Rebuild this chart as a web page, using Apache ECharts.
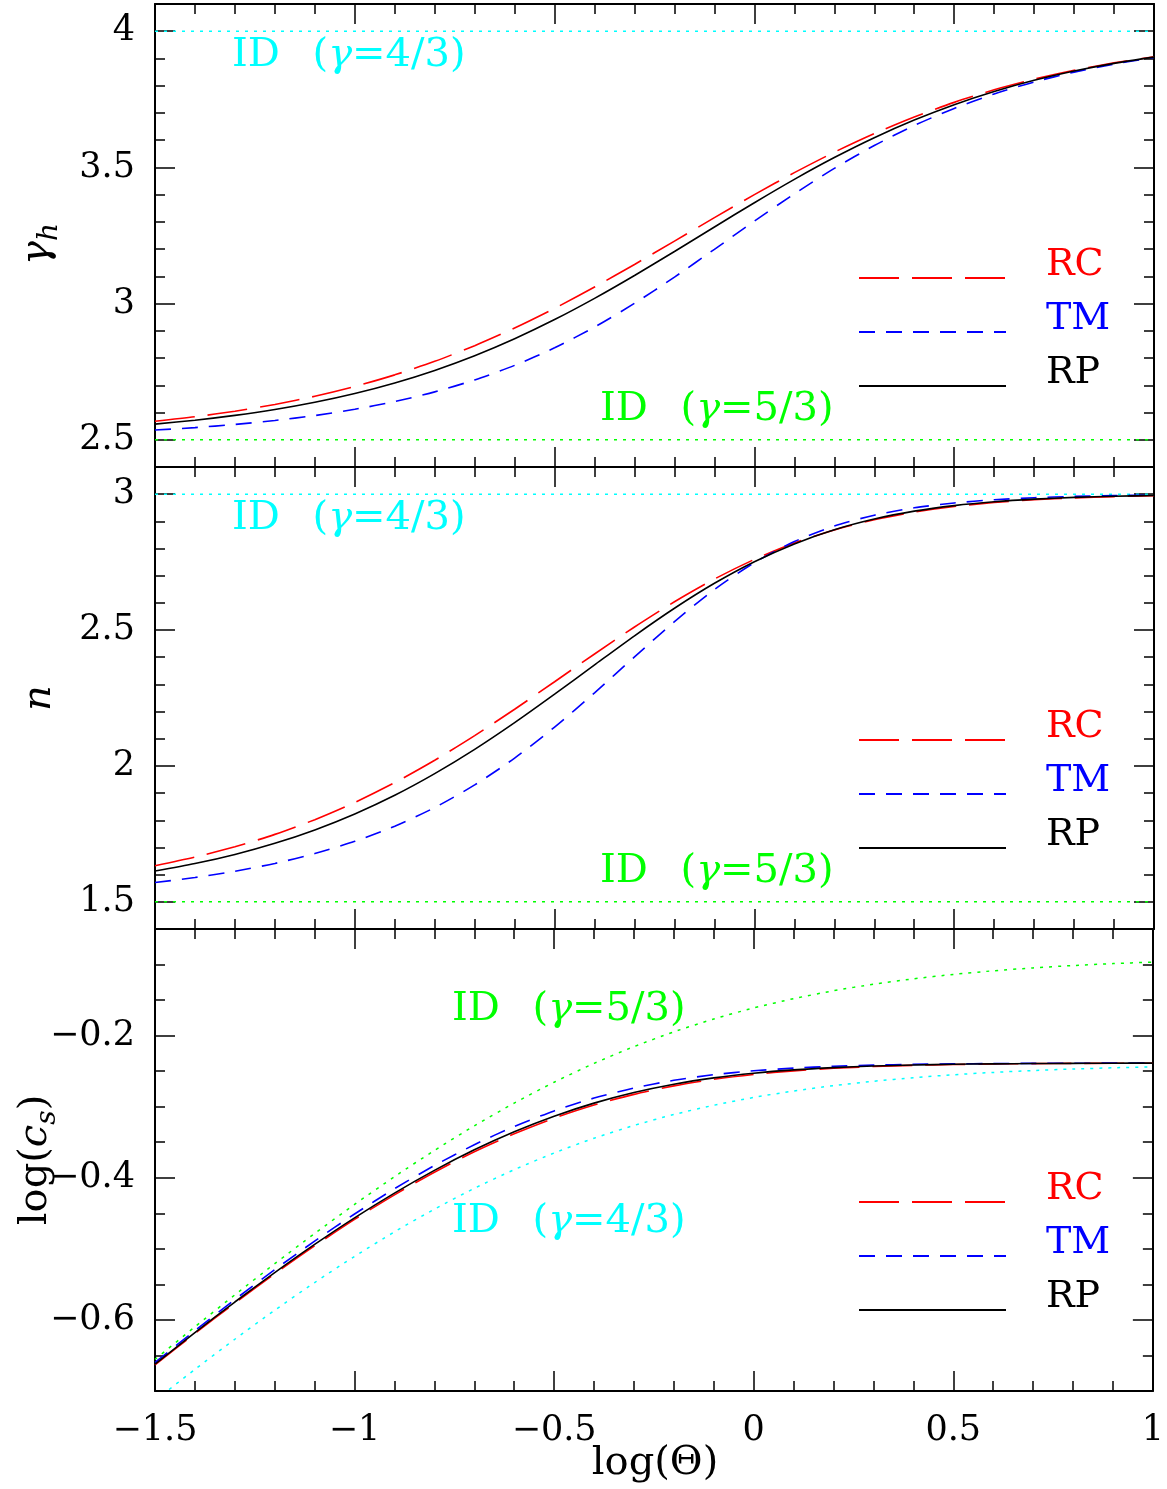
<!DOCTYPE html>
<html><head><meta charset="utf-8">
<script src="https://cdn.jsdelivr.net/npm/echarts/dist/echarts.min.js"></script>
<style>html,body{margin:0;padding:0;background:#fff}#c{width:1167px;height:1489px}</style>
</head><body><div id="c"></div>
<script>
// ---- data ----
const logTheta = [-1.5,-1.4,-1.3,-1.2,-1.1,-1.0,-0.9,-0.8,-0.7,-0.6,-0.5,-0.4,-0.3,-0.2,-0.1,0,0.1,0.2,0.3,0.4,0.5,0.6,0.7,0.8,0.9,1.0];

const gammaH_RC = [2.5680,2.5845,2.6049,2.6297,2.6597,2.6957,2.7383,2.7881,2.8455,2.9105,2.9826,3.0608,3.1437,3.2294,3.3155,3.4000,3.4807,3.5559,3.6243,3.6854,3.7388,3.7849,3.8239,3.8566,3.8838,3.9063];
const gammaH_TM = [2.5356,2.5447,2.5563,2.5708,2.5890,2.6119,2.6404,2.6758,2.7197,2.7732,2.8377,2.9138,3.0010,3.0973,3.1994,3.3028,3.4030,3.4963,3.5803,3.6538,3.7167,3.7697,3.8137,3.8498,3.8794,3.9033];
const gammaH_RP = [2.5575,2.5717,2.5894,2.6111,2.6377,2.6699,2.7086,2.7547,2.8086,2.8709,2.9413,3.0192,3.1032,3.1914,3.2814,3.3704,3.4561,3.5361,3.6090,3.6738,3.7304,3.7788,3.8197,3.8538,3.8819,3.9049];

const n_RC = [1.6328,1.6643,1.7024,1.7482,1.8024,1.8658,1.9387,2.0209,2.1115,2.2087,2.3099,2.4120,2.5112,2.6041,2.6877,2.7600,2.8202,2.8685,2.9059,2.9340,2.9546,2.9691,2.9793,2.9863,2.9910,2.9941];
const n_TM = [1.5711,1.5894,1.6125,1.6413,1.6775,1.7225,1.7783,1.8469,1.9301,2.0289,2.1429,2.2691,2.4014,2.5311,2.6490,2.7481,2.8256,2.8827,2.9227,2.9498,2.9677,2.9794,2.9869,2.9917,2.9948,2.9967];
const n_RP = [1.6131,1.6407,1.6744,1.7154,1.7647,1.8234,1.8921,1.9717,2.0610,2.1593,2.2641,2.3719,2.4789,2.5802,2.6720,2.7515,2.8171,2.8691,2.9085,2.9375,2.9580,2.9722,2.9818,2.9882,2.9924,2.9952];

const logCs_RC = [-0.6632,-0.6191,-0.5763,-0.5351,-0.4958,-0.4586,-0.4240,-0.3922,-0.3634,-0.3381,-0.3161,-0.2977,-0.2827,-0.2707,-0.2615,-0.2546,-0.2496,-0.2460,-0.2435,-0.2418,-0.2407,-0.2399,-0.2394,-0.2391,-0.2389,-0.2388];
const logCs_TM = [-0.6598,-0.6150,-0.5714,-0.5293,-0.4891,-0.4510,-0.4154,-0.3828,-0.3535,-0.3278,-0.3059,-0.2879,-0.2737,-0.2629,-0.2550,-0.2495,-0.2457,-0.2432,-0.2415,-0.2404,-0.2398,-0.2393,-0.2390,-0.2389,-0.2387,-0.2387];
const logCs_RP = [-0.6621,-0.6178,-0.5748,-0.5334,-0.4938,-0.4564,-0.4216,-0.3896,-0.3607,-0.3353,-0.3134,-0.2950,-0.2801,-0.2684,-0.2595,-0.2529,-0.2482,-0.2450,-0.2428,-0.2413,-0.2403,-0.2397,-0.2393,-0.2390,-0.2388,-0.2387];
const logCs_ID53 = [-0.6556,-0.6097,-0.5647,-0.5209,-0.4784,-0.4375,-0.3985,-0.3616,-0.3269,-0.2949,-0.2656,-0.2391,-0.2155,-0.1947,-0.1766,-0.1611,-0.1480,-0.1369,-0.1277,-0.1201,-0.1139,-0.1088,-0.1047,-0.1014,-0.0987,-0.0966];
const logCs_ID43 = [-0.7134,-0.6696,-0.6272,-0.5864,-0.5474,-0.5106,-0.4761,-0.4442,-0.4149,-0.3886,-0.3651,-0.3444,-0.3264,-0.3110,-0.2980,-0.2870,-0.2779,-0.2704,-0.2642,-0.2592,-0.2551,-0.2518,-0.2491,-0.2470,-0.2453,-0.2439];

const idEnds = [-1.5, 1];
const gammaH_ID43 = [4, 4];
const gammaH_ID53 = [2.5, 2.5];
const n_ID43 = [3, 3];
const n_ID53 = [1.5, 1.5];

const xTicks = [-1.5,-1,-0.5,0,0.5,1];
const gammaHTicks = [2.5,3,3.5,4];
const nTicks = [1.5,2,2.5,3];
const csTicks = [-0.6,-0.4,-0.2];

const legendNames = ['RC','TM','RP'];

// ---- styling ----
const FONT = 'DejaVu Serif';
const RED = '#ff0000', BLUE = '#0000ff', CYAN = '#00ffff', GREEN = '#00ff00', BLACK = '#000000';
const fmt = v => (v < 0 ? '\u2212' : '') + String(Math.abs(v));

const grids = [
  {left:155, right:13, top:4, height:463},
  {left:155, right:13, top:467, height:462},
  {left:155, right:13, top:929, height:462}
];
const yRanges = [
  {min:2.4, max:4.1, majors:gammaHTicks, minor:0.1},
  {min:1.4, max:3.1, majors:nTicks, minor:0.1},
  {min:-0.7, max:-0.05, majors:csTicks, minor:0.05}
];

const xAxes = [], yAxes = [];
grids.forEach((g, gi) => {
  ['bottom','top'].forEach(pos => {
    xAxes.push({
      type:'value', gridIndex:gi, position:pos, min:-1.5, max:1, interval:0.5,
      axisLine:{show:true, onZero:false, lineStyle:{color:BLACK, width:2}},
      axisTick:{show:true, inside:true, length:20, customValues:xTicks, lineStyle:{color:BLACK, width:1.5}},
      minorTick:{show:true, splitNumber:5, length:10, lineStyle:{color:BLACK, width:1.5}},
      axisLabel:{show: gi===2 && pos==='bottom', customValues:xTicks, formatter:fmt, margin:22, fontFamily:FONT, fontSize:35, color:BLACK},
      splitLine:{show:false}, minorSplitLine:{show:false}
    });
  });
  const r = yRanges[gi];
  ['left','right'].forEach(pos => {
    yAxes.push({
      type:'value', gridIndex:gi, position:pos, min:r.min, max:r.max,
      axisLine:{show:true, onZero:false, lineStyle:{color:BLACK, width:2}},
      axisTick:{show:true, inside:true, length:20, customValues:r.majors, lineStyle:{color:BLACK, width:1.5}},
      axisLabel:{show: pos==='left', customValues:r.majors, formatter:fmt, margin:20, fontFamily:FONT, fontSize:35, color:BLACK},
      splitLine:{show:false}
    });
    yAxes.push({
      type:'value', gridIndex:gi, position:pos, min:r.min, max:r.max, interval:r.minor,
      axisLine:{show:false, onZero:false},
      axisTick:{show:true, inside:true, length:10, lineStyle:{color:BLACK, width:1.5}},
      axisLabel:{show:false}, splitLine:{show:false}
    });
  });
});

function mk(name, gi, xs, ys, color, dash, width, z) {
  return {
    type:'line', name, xAxisIndex: gi*2, yAxisIndex: gi*4,
    data: xs.map((x,i) => [x, ys[i]]),
    symbol:'none', smooth: xs.length > 2 ? 0.25 : false,
    lineStyle:{color, width, type:dash}, itemStyle:{color},
    silent:true, z: z || 2, clip:true
  };
}
const DOT = [3,6], LONG = [40,13], SHORT = [16,11];
const series = [
  mk('ID (γ=4/3)', 0, idEnds, gammaH_ID43, CYAN, DOT, 1.5, 1),
  mk('ID (γ=5/3)', 0, idEnds, gammaH_ID53, GREEN, DOT, 1.5, 1),
  mk('RC', 0, logTheta, gammaH_RC, RED, LONG, 1.6),
  mk('TM', 0, logTheta, gammaH_TM, BLUE, SHORT, 1.6),
  mk('RP', 0, logTheta, gammaH_RP, BLACK, 'solid', 1.6, 3),

  mk('ID (γ=4/3)', 1, idEnds, n_ID43, CYAN, DOT, 1.5, 1),
  mk('ID (γ=5/3)', 1, idEnds, n_ID53, GREEN, DOT, 1.5, 1),
  mk('RC', 1, logTheta, n_RC, RED, LONG, 1.6),
  mk('TM', 1, logTheta, n_TM, BLUE, SHORT, 1.6),
  mk('RP', 1, logTheta, n_RP, BLACK, 'solid', 1.6, 3),

  mk('ID (γ=5/3)', 2, logTheta, logCs_ID53, GREEN, DOT, 1.5, 1),
  mk('ID (γ=4/3)', 2, logTheta, logCs_ID43, CYAN, DOT, 1.5, 1),
  mk('RC', 2, logTheta, logCs_RC, RED, LONG, 1.6),
  mk('TM', 2, logTheta, logCs_TM, BLUE, SHORT, 1.6),
  mk('RP', 2, logTheta, logCs_RP, BLACK, 'solid', 1.6, 3)
];

const legendColors = {RC:RED, TM:BLUE, RP:BLACK};
const legends = [246, 708, 1170].map(top => ({
  orient:'vertical', left:858, top, padding:0,
  itemWidth:147, itemHeight:60, itemGap:-10, selectedMode:false,
  itemStyle:{color:'rgba(0,0,0,0)', borderColor:'rgba(0,0,0,0)', borderWidth:0, opacity:0},
  formatter: name => '{t|' + name + '}',
  textStyle:{fontFamily:FONT, fontSize:38,
    rich:{t:{fontFamily:FONT, fontSize:38, lineHeight:14, padding:[0,0,26,35]}}},
  data: legendNames.map(n => ({name:n, textStyle:{color:legendColors[n]}}))
}));

function idLabel(x, y, frac, color) {
  return {
    type:'text', x, y, silent:true, z:10,
    style:{
      text:'{a|ID }{p|(}{g|γ}{a|=' + frac + ')}',
      fill:color, align:'left', verticalAlign:'middle',
      rich:{
        a:{fontFamily:FONT, fontSize:40, fill:color},
        p:{fontFamily:FONT, fontSize:40, fill:color, padding:[0,0,0,20]},
        g:{fontFamily:FONT, fontSize:40, fontStyle:'italic', fill:color}
      }
    }
  };
}
const graphics = [
  idLabel(232, 56, '4/3', CYAN),
  idLabel(600, 410, '5/3', GREEN),
  idLabel(232, 519, '4/3', CYAN),
  idLabel(600, 872, '5/3', GREEN),
  idLabel(452, 1010, '5/3', GREEN),
  idLabel(452, 1222, '4/3', CYAN),
  {type:'text', x:38, y:244, rotation:Math.PI/2, silent:true,
   style:{text:'{g|γ}{s|h}', align:'center', verticalAlign:'middle', fill:BLACK,
     rich:{g:{fontFamily:FONT, fontSize:40, fontStyle:'italic', fill:BLACK},
           s:{fontFamily:FONT, fontSize:28, fontStyle:'italic', fill:BLACK, padding:[24,0,0,0]}}}},
  {type:'text', x:40, y:698, rotation:Math.PI/2, silent:true,
   style:{text:'n', align:'center', verticalAlign:'middle', fill:BLACK,
     fontFamily:FONT, fontSize:40, fontStyle:'italic'}},
  {type:'text', x:36, y:1160, rotation:Math.PI/2, silent:true,
   style:{text:'{a|log(}{c|c}{s|s}{a|)}', align:'center', verticalAlign:'middle', fill:BLACK,
     rich:{a:{fontFamily:FONT, fontSize:40, fill:BLACK},
           c:{fontFamily:FONT, fontSize:40, fontStyle:'italic', fill:BLACK},
           s:{fontFamily:FONT, fontSize:28, fontStyle:'italic', fill:BLACK, padding:[24,0,0,0]}}}},
  {type:'text', x:655, y:1464, silent:true,
   style:{text:'log(Θ)', align:'center', verticalAlign:'middle', fill:BLACK,
     fontFamily:FONT, fontSize:40}}
];

const chart = echarts.init(document.getElementById('c'), null, {renderer:'canvas', width:1167, height:1489});
chart.setOption({
  backgroundColor:'#ffffff',
  animation:false,
  grid: grids,
  xAxis: xAxes,
  yAxis: yAxes,
  legend: legends,
  series,
  graphic: graphics
});
</script></body></html>
